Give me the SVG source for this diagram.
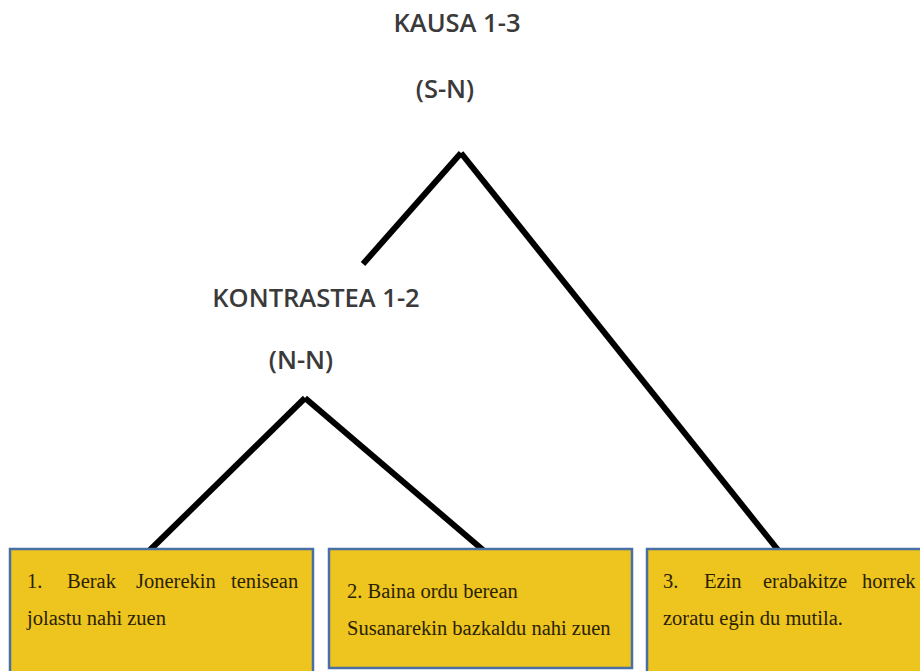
<svg xmlns="http://www.w3.org/2000/svg" width="920" height="671" viewBox="0 0 920 671">
<style>
.lbl{font-family:"Open Sans","Liberation Sans",sans-serif;font-size:25.5px;font-weight:600;fill:#3a3a3a;}
.box{fill:#EEC41F;stroke:#4A6FA5;stroke-width:2.5;}
.bt{font-family:"Liberation Serif",serif;font-size:20.5px;fill:#2a2200;}
.edge{stroke:#000;stroke-width:6;fill:none;}
</style>
<rect width="920" height="671" fill="#fff"/>
<g id="connectors">
<line class="edge" x1="461" y1="153" x2="363" y2="264"/>
<line class="edge" x1="461" y1="153" x2="778" y2="550"/>
<line class="edge" x1="305" y1="398" x2="150" y2="550"/>
<line class="edge" x1="305" y1="398" x2="483" y2="550"/>
</g>
<g id="kausa">
<text class="lbl" x="457" y="32" text-anchor="middle">KAUSA 1-3</text>
<text class="lbl" x="445" y="98" text-anchor="middle">(S-N)</text>
</g>
<g id="kontrastea">
<text class="lbl" x="316" y="307" text-anchor="middle">KONTRASTEA 1-2</text>
<text class="lbl" x="301" y="369" text-anchor="middle">(N-N)</text>
</g>
<g id="box1">
<rect class="box" x="10" y="549" width="303" height="130"/>
<text class="bt" y="588"><tspan x="27">1.</tspan><tspan x="67">Berak</tspan><tspan x="136">Jonerekin</tspan><tspan x="231">tenisean</tspan></text>
<text class="bt" x="27" y="625">jolastu nahi zuen</text>
</g>
<g id="box2">
<rect class="box" x="329" y="549" width="303" height="119"/>
<text class="bt" x="347" y="598">2. Baina ordu berean</text>
<text class="bt" x="347" y="635">Susanarekin  bazkaldu nahi zuen</text>
</g>
<g id="box3">
<rect class="box" x="647" y="549" width="285" height="130"/>
<text class="bt" y="588"><tspan x="663">3.</tspan><tspan x="704">Ezin</tspan><tspan x="763">erabakitze</tspan><tspan x="862">horrek</tspan></text>
<text class="bt" x="663" y="625">zoratu egin du mutila.</text>
</g>
</svg>
